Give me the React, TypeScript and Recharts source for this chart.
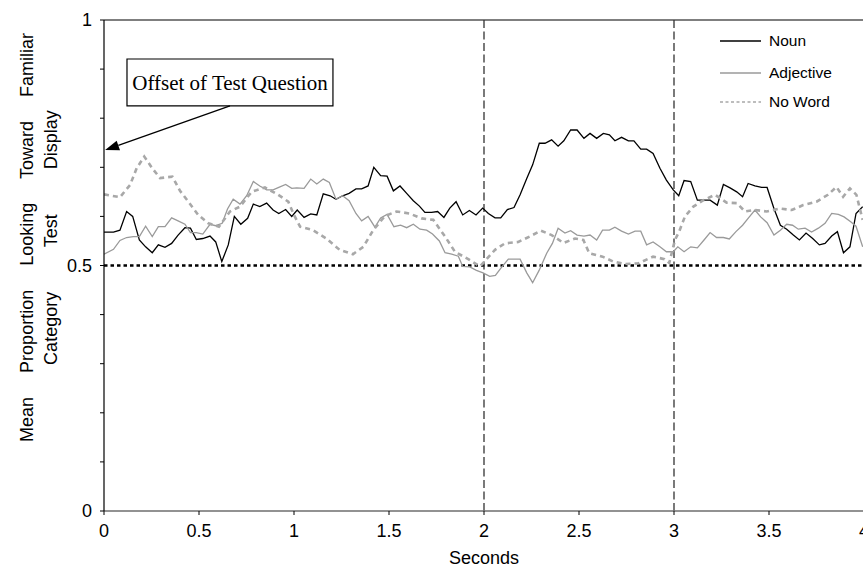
import React from 'react';
import { LineChart, Line, XAxis, YAxis, ReferenceLine, ReferenceArea, Label, Legend } from 'recharts';

// [seconds, proportion]
const nounPoints: [number, number][] = [
  [0, 0.568], [0.05, 0.568], [0.084, 0.572], [0.119, 0.61], [0.151, 0.6], [0.186, 0.552], [0.219, 0.538],
  [0.254, 0.526], [0.286, 0.542], [0.321, 0.537], [0.356, 0.545], [0.39, 0.562], [0.426, 0.577], [0.455, 0.576],
  [0.486, 0.553], [0.52, 0.555], [0.558, 0.56], [0.588, 0.548], [0.62, 0.508], [0.654, 0.542], [0.686, 0.6],
  [0.72, 0.584], [0.756, 0.596], [0.786, 0.625], [0.82, 0.62], [0.856, 0.627], [0.89, 0.613], [0.92, 0.606],
  [0.956, 0.614], [0.988, 0.6], [1.017, 0.613], [1.053, 0.598], [1.088, 0.605], [1.12, 0.603], [1.154, 0.646],
  [1.19, 0.642], [1.221, 0.635], [1.256, 0.642], [1.29, 0.647], [1.326, 0.656], [1.356, 0.656], [1.39, 0.662],
  [1.42, 0.7], [1.456, 0.683], [1.49, 0.682], [1.523, 0.652], [1.558, 0.662], [1.593, 0.647], [1.628, 0.632],
  [1.66, 0.621], [1.689, 0.608], [1.724, 0.608], [1.756, 0.61], [1.789, 0.598], [1.82, 0.617], [1.853, 0.63],
  [1.888, 0.603], [1.923, 0.612], [1.958, 0.603], [1.993, 0.617], [2.023, 0.606], [2.058, 0.597], [2.088, 0.597],
  [2.123, 0.614], [2.158, 0.618], [2.19, 0.644], [2.225, 0.677], [2.256, 0.705], [2.291, 0.749], [2.321, 0.749],
  [2.356, 0.756], [2.39, 0.743], [2.42, 0.754], [2.456, 0.776], [2.49, 0.776], [2.526, 0.759], [2.558, 0.769],
  [2.593, 0.759], [2.628, 0.769], [2.66, 0.766], [2.689, 0.754], [2.724, 0.761], [2.76, 0.754], [2.789, 0.754],
  [2.825, 0.737], [2.856, 0.737], [2.89, 0.728], [2.926, 0.698], [2.96, 0.674], [2.996, 0.654], [3.025, 0.642],
  [3.053, 0.673], [3.088, 0.671], [3.123, 0.633], [3.158, 0.633], [3.19, 0.633], [3.228, 0.623], [3.26, 0.665],
  [3.295, 0.658], [3.33, 0.65], [3.361, 0.64], [3.39, 0.667], [3.426, 0.662], [3.461, 0.659], [3.49, 0.659],
  [3.526, 0.616], [3.56, 0.582], [3.593, 0.574], [3.628, 0.562], [3.66, 0.552], [3.695, 0.566], [3.73, 0.555],
  [3.765, 0.542], [3.795, 0.545], [3.83, 0.56], [3.86, 0.569], [3.892, 0.526], [3.926, 0.538], [3.958, 0.606],
  [3.993, 0.62],
];

const adjectivePoints: [number, number][] = [
  [0, 0.523], [0.05, 0.533], [0.084, 0.551], [0.119, 0.557], [0.154, 0.559], [0.186, 0.559], [0.219, 0.58],
  [0.254, 0.559], [0.286, 0.579], [0.321, 0.579], [0.356, 0.597], [0.39, 0.591], [0.426, 0.584], [0.455, 0.567],
  [0.486, 0.567], [0.52, 0.564], [0.558, 0.584], [0.588, 0.581], [0.622, 0.586], [0.65, 0.615], [0.68, 0.635],
  [0.716, 0.625], [0.751, 0.642], [0.786, 0.671], [0.82, 0.662], [0.856, 0.654], [0.89, 0.654], [0.92, 0.659],
  [0.956, 0.665], [0.988, 0.657], [1.014, 0.658], [1.053, 0.657], [1.088, 0.676], [1.12, 0.666], [1.154, 0.676],
  [1.186, 0.669], [1.221, 0.635], [1.256, 0.642], [1.29, 0.632], [1.326, 0.606], [1.356, 0.591], [1.39, 0.6],
  [1.426, 0.578], [1.456, 0.597], [1.49, 0.604], [1.526, 0.579], [1.561, 0.582], [1.593, 0.577], [1.628, 0.584],
  [1.663, 0.574], [1.698, 0.572], [1.729, 0.564], [1.765, 0.55], [1.795, 0.526], [1.83, 0.523], [1.865, 0.519],
  [1.888, 0.498], [1.925, 0.497], [1.96, 0.49], [1.995, 0.485], [2.03, 0.478], [2.06, 0.48], [2.09, 0.495],
  [2.128, 0.513], [2.16, 0.513], [2.19, 0.513], [2.225, 0.485], [2.256, 0.465], [2.29, 0.49], [2.33, 0.525],
  [2.36, 0.545], [2.39, 0.576], [2.426, 0.566], [2.456, 0.571], [2.49, 0.562], [2.526, 0.56], [2.558, 0.562],
  [2.593, 0.552], [2.624, 0.572], [2.66, 0.572], [2.689, 0.578], [2.724, 0.57], [2.76, 0.564], [2.795, 0.57],
  [2.825, 0.57], [2.856, 0.542], [2.89, 0.548], [2.926, 0.538], [2.96, 0.528], [2.996, 0.528], [3.02, 0.538],
  [3.053, 0.528], [3.088, 0.538], [3.123, 0.536], [3.158, 0.552], [3.19, 0.567], [3.224, 0.557], [3.26, 0.557],
  [3.291, 0.554], [3.326, 0.569], [3.361, 0.582], [3.39, 0.596], [3.426, 0.613], [3.456, 0.599], [3.49, 0.587],
  [3.526, 0.562], [3.56, 0.572], [3.593, 0.584], [3.624, 0.582], [3.654, 0.574], [3.69, 0.576], [3.724, 0.568],
  [3.76, 0.576], [3.795, 0.586], [3.83, 0.606], [3.865, 0.604], [3.895, 0.599], [3.93, 0.589], [3.958, 0.58],
  [3.993, 0.538],
];

const noWordPoints: [number, number][] = [
  [0, 0.645], [0.084, 0.639], [0.137, 0.664], [0.172, 0.698], [0.212, 0.722], [0.254, 0.698], [0.295, 0.678],
  [0.36, 0.681], [0.4, 0.652], [0.444, 0.63], [0.496, 0.603], [0.549, 0.586], [0.605, 0.579], [0.663, 0.61],
  [0.716, 0.62], [0.777, 0.65], [0.847, 0.659], [0.917, 0.644], [0.97, 0.63], [1.0, 0.603], [1.032, 0.579],
  [1.1, 0.572], [1.17, 0.555], [1.24, 0.532], [1.31, 0.523], [1.365, 0.538], [1.417, 0.572], [1.479, 0.601],
  [1.54, 0.61], [1.607, 0.606], [1.672, 0.596], [1.733, 0.593], [1.795, 0.559], [1.847, 0.528], [1.917, 0.513],
  [1.979, 0.498], [2.014, 0.513], [2.058, 0.532], [2.11, 0.545], [2.18, 0.548], [2.24, 0.559], [2.3, 0.571],
  [2.356, 0.562], [2.418, 0.546], [2.479, 0.555], [2.523, 0.552], [2.554, 0.525], [2.624, 0.518], [2.68, 0.508],
  [2.74, 0.503], [2.81, 0.504], [2.89, 0.518], [2.95, 0.513], [2.975, 0.505], [3.005, 0.552], [3.028, 0.57],
  [3.058, 0.6], [3.102, 0.62], [3.155, 0.633], [3.216, 0.644], [3.277, 0.628], [3.33, 0.627], [3.374, 0.61],
  [3.426, 0.613], [3.488, 0.61], [3.558, 0.616], [3.62, 0.613], [3.68, 0.623], [3.75, 0.63], [3.81, 0.644],
  [3.855, 0.66], [3.89, 0.64], [3.926, 0.657], [3.96, 0.644], [3.993, 0.593],
];

const xTicks = [0, 0.5, 1, 1.5, 2, 2.5, 3, 3.5, 4];
const yTicks = [0, 0.1, 0.2, 0.3, 0.4, 0.5, 0.6, 0.7, 0.8, 0.9, 1];
const yLabeled = [0, 0.5, 1];
const eventLines = [2, 3];
const chanceLevel = 0.5;

const yTitleLines = ['Mean Proportion Looking Toward Familiar', 'Category Test Display'];
const xTitle = 'Seconds';
const noteText = 'Offset of Test Question';
const noteBox = { x1: 0.121, x2: 1.205, y1: 0.825, y2: 0.9206 };
const noteArrow = [{ x: 0.663, y: 0.825 }, { x: 0.006, y: 0.735 }];

const series = [
  { name: 'Noun', points: nounPoints, color: '#000000', width: 1.3, dash: undefined as string | undefined, legendDash: undefined as string | undefined },
  { name: 'Adjective', points: adjectivePoints, color: '#9a9a9a', width: 1.3, dash: undefined, legendDash: undefined },
  { name: 'No Word', points: noWordPoints, color: '#a8a8a8', width: 2.6, dash: '5 4', legendDash: '3 2.5' },
];

const SANS = '"Liberation Sans", Arial, Helvetica, sans-serif';
const SERIF = '"Liberation Serif", "Times New Roman", serif';

const ArrowShape = (props: any) => {
  const { x1, y1, x2, y2 } = props;
  const dx = x2 - x1;
  const dy = y2 - y1;
  const len = Math.sqrt(dx * dx + dy * dy) || 1;
  const ux = dx / len;
  const uy = dy / len;
  const head = 14;
  const half = 5;
  const bx = x2 - ux * head;
  const by = y2 - uy * head;
  const pts = `${x2},${y2} ${bx - uy * half},${by + ux * half} ${bx + uy * half},${by - ux * half}`;
  return (
    <g>
      <line x1={x1} y1={y1} x2={bx} y2={by} stroke="#000" strokeWidth={1.3} />
      <polygon points={pts} fill="#000" />
    </g>
  );
};

const YTitle = (props: any) => {
  const vb = props.viewBox || { x: 0, y: 20, width: 104, height: 491 };
  const cy = vb.y + vb.height / 2 - 28;
  const xs = [vb.x + 27, vb.x + 51];
  const spacing = [19, 40];
  return (
    <g>
      {yTitleLines.map((line, i) => (
        <text
          key={i}
          x={xs[i]}
          y={cy}
          transform={`rotate(-90 ${xs[i]} ${cy})`}
          textAnchor="middle"
          dominantBaseline="central"
          fontFamily={SANS}
          fontSize={18}
          fill="#000"
          style={{ wordSpacing: `${spacing[i]}px` }}
        >
          {line}
        </text>
      ))}
    </g>
  );
};

const LegendContent = () => {
  const tops = [31, 63, 92];
  return (
    <div style={{ position: 'relative', width: 150, height: 110 }}>
      {series.map((s, i) => (
        <div key={s.name} style={{ position: 'absolute', left: 0, top: tops[i], height: 20, display: 'flex', alignItems: 'center' }}>
          <svg width={42} height={20} style={{ display: 'block' }}>
            <line x1={0} y1={10} x2={41} y2={10} stroke={s.color} strokeWidth={1.3} strokeDasharray={s.legendDash} />
          </svg>
          <span style={{ marginLeft: 7, fontFamily: SANS, fontSize: 15.5, color: '#000', whiteSpace: 'nowrap' }}>{s.name}</span>
        </div>
      ))}
    </div>
  );
};

export default function App() {
  return (
    <div style={{ position: 'absolute', left: 0, top: 0, width: 863, height: 567, overflow: 'hidden', background: '#fff' }}>
      <LineChart width={880} height={567} margin={{ top: 20, right: 16, bottom: 0, left: 0 }}>
        <XAxis
          dataKey="t"
          type="number"
          domain={[0, 4]}
          ticks={xTicks}
          allowDataOverflow
          height={56}
          axisLine={{ stroke: '#6e6e6e', strokeWidth: 1.6 }}
          tickLine={{ stroke: '#000' }}
          tickSize={4}
          tickMargin={9}
          tick={{ fontSize: 18, fill: '#000', fontFamily: SANS }}
        >
          <Label value={xTitle} position="insideBottom" offset={3} style={{ fontSize: 18, fill: '#000', fontFamily: SANS }} />
        </XAxis>
        <YAxis
          type="number"
          domain={[0, 1]}
          ticks={yTicks}
          interval={0}
          width={104}
          axisLine={{ stroke: '#000', strokeWidth: 1.2 }}
          tickLine={{ stroke: '#000' }}
          tickSize={4}
          tickMargin={8}
          tickFormatter={(v: number) => (yLabeled.some((l) => Math.abs(l - v) < 1e-6) ? String(v) : '')}
          tick={{ fontSize: 18, fill: '#000', fontFamily: SANS }}
        >
          <Label content={<YTitle />} position="insideLeft" />
        </YAxis>
        <ReferenceLine y={1} stroke="#000" strokeWidth={1.2} />
        <ReferenceLine y={chanceLevel} stroke="#000" strokeWidth={2.6} strokeDasharray="3.5 3" />
        {eventLines.map((x) => (
          <ReferenceLine key={x} x={x} stroke="#333" strokeWidth={1.3} strokeDasharray="8 3.5" />
        ))}
        <ReferenceArea
          x1={noteBox.x1}
          x2={noteBox.x2}
          y1={noteBox.y1}
          y2={noteBox.y2}
          fill="#fff"
          fillOpacity={1}
          stroke="#000"
          strokeWidth={1.2}
        >
          <Label value={noteText} position="center" style={{ fontSize: 21, fill: '#000', fontFamily: SERIF }} />
        </ReferenceArea>
        <ReferenceLine segment={noteArrow} shape={ArrowShape} ifOverflow="visible" />
        {series.map((s) => (
          <Line
            key={s.name}
            name={s.name}
            data={s.points.map(([t, v]) => ({ t, v }))}
            dataKey="v"
            type="linear"
            stroke={s.color}
            strokeWidth={s.width}
            strokeDasharray={s.dash}
            dot={false}
            activeDot={false}
            isAnimationActive={false}
          />
        ))}
        <Legend
          layout="vertical"
          align="center"
          verticalAlign="middle"
          content={<LegendContent />}
          wrapperStyle={{ left: 720, top: 0, width: 150, height: 120 }}
        />
      </LineChart>
    </div>
  );
}
